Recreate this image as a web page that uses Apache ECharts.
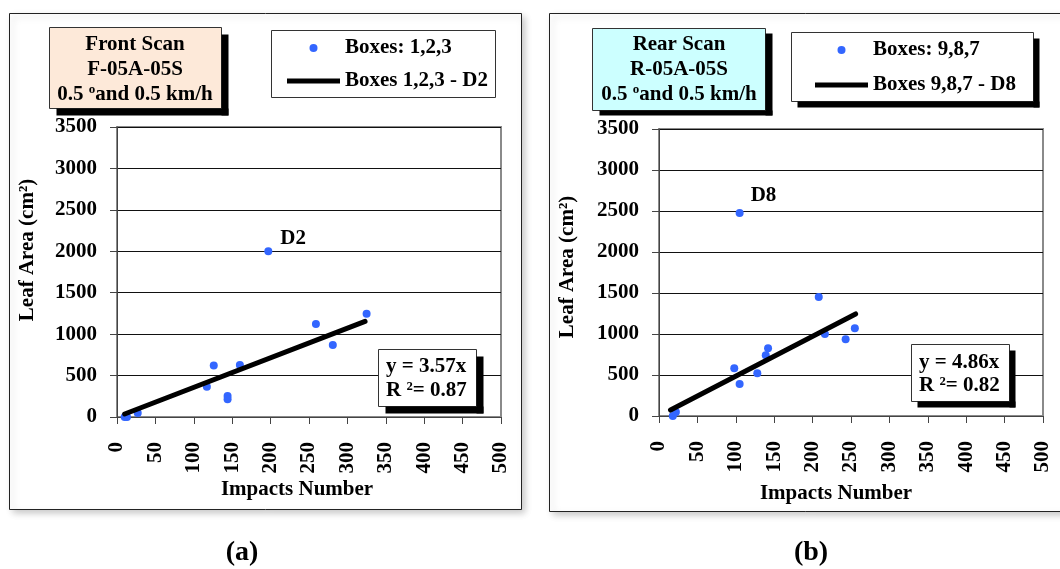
<!DOCTYPE html>
<html>
<head>
<meta charset="utf-8">
<script src="https://cdn.jsdelivr.net/npm/echarts@6/dist/echarts.min.js"></script>
<style>
  html, body { margin: 0; padding: 0; background: #fff; }
  #chart { width: 1060px; height: 569px; }
</style>
</head>
<body>
<div id="chart"></div>
<script>
// Front scan, boxes 1,2,3
const frontImpacts  = [10, 13, 27, 117, 126, 144, 144, 160, 197, 259, 281, 325];
const frontLeafArea = [0, 0, 48, 366, 623, 253, 213, 627, 2000, 1122, 869, 1247];
const frontSlope = 3.57;
const frontR2 = 0.87;
const frontFitRange = [10, 323];
const frontOutlierIndex = 8;   // D2

// Rear scan, boxes 9,8,7
const rearImpacts  = [18, 22, 98, 105, 105, 128, 139, 142, 208, 216, 243, 255];
const rearLeafArea = [0, 49, 581, 390, 2477, 520, 740, 825, 1452, 1000, 935, 1070];
const rearSlope = 4.86;
const rearR2 = 0.82;
const rearFitRange = [15, 256];
const rearOutlierIndex = 4;    // D8

// Axis scales
const xRange = [0, 500];
const xStep = 50;
const yRange = [0, 3500];
const yStep = 500;

const FONT = '"Liberation Serif", "Times New Roman", serif';
const DOT = '#3366ff';
const LINE_ICON = 'path://M0,0L53,0L53,5L0,5Z';

function points(xs, ys, outlier, tag, lbl) {
  return xs.map((x, i) => {
    const item = { value: [x, ys[i]] };
    if (i === outlier) {
      item.label = {
        show: true, formatter: tag, position: lbl,
        align: 'left', verticalAlign: 'middle',
        fontFamily: FONT, fontWeight: 'bold', fontSize: 21, color: '#000', opacity: 1
      };
    }
    return item;
  });
}

function fitLine(slope, range) {
  return range.map(x => [x, slope * x]);
}

function xAxis(gi) {
  return {
    type: 'value', gridIndex: gi, min: xRange[0], max: xRange[1], interval: xStep,
    axisLine: { show: true, onZero: false, lineStyle: { color: '#444', width: 1 } },
    axisTick: { show: true, length: 7, lineStyle: { color: '#444' } },
    axisLabel: { rotate: 90, margin: 25, fontFamily: FONT, fontWeight: 'bold', fontSize: 21, color: '#000',
                 formatter: v => String(v) },
    splitLine: { show: false }
  };
}

function yAxis(gi) {
  return {
    type: 'value', gridIndex: gi, min: yRange[0], max: yRange[1], interval: yStep,
    axisLine: { show: true, lineStyle: { color: '#444', width: 1 } },
    axisTick: { show: true, length: 7, lineStyle: { color: '#444' } },
    axisLabel: { margin: 20, fontFamily: FONT, fontWeight: 'bold', fontSize: 21, color: '#000',
                 formatter: v => String(v) },
    splitLine: { show: true, lineStyle: { color: '#111', width: 1 } }
  };
}

// Legend box background is drawn separately, so the legend itself stays transparent
function legend(names, left, top, padding, gap) {
  return {
    orient: 'vertical', left: left, top: top, padding: padding, z: 200,
    itemWidth: 53, itemHeight: 8, itemGap: gap,
    backgroundColor: 'transparent', borderWidth: 0,
    selectedMode: false,
    textStyle: { fontFamily: FONT, fontWeight: 'bold', fontSize: 21, color: '#000', lineHeight: 22 },
    data: [
      { name: names[0], icon: 'circle', itemStyle: { color: DOT, opacity: 1 } },
      { name: names[1], icon: LINE_ICON, itemStyle: { color: '#000', borderWidth: 0 } }
    ]
  };
}

// Hard drop shadow: one strip down the right side, one along the bottom
function dropShadow(id, x, y, w, h, dx, dy) {
  return [
    { type: 'rect', id: id + '-r', z: 300, shape: { x: x + w, y: y + dy, width: dx, height: h }, style: { fill: '#000' } },
    { type: 'rect', id: id + '-b', z: 300, shape: { x: x + dx, y: y + h, width: w, height: dy }, style: { fill: '#000' } }
  ];
}

function box(id, x, y, w, h, fill, off, children) {
  const list = [{ type: 'rect', id: id, z: 101, shape: { x: x, y: y, width: w, height: h }, style: { fill: fill, stroke: '#333', lineWidth: 1 } }];
  const shadow = off ? dropShadow(id + '-shadow', x, y, w, h, off[0], off[1]) : [];
  return list.concat(children || [], shadow);
}

function txt(x, y, text, opts) {
  return Object.assign({
    type: 'text', z: 102, x: x, y: y,
    style: Object.assign({
      text: text, fontFamily: FONT, fontWeight: 'bold', fontSize: 21, fill: '#000',
      align: 'center', verticalAlign: 'middle'
    }, (opts && opts.style) || {})
  }, (opts && opts.el) || {});
}

function titleText(x, y, l1, l2) {
  return {
    type: 'text', z: 102, x: x, y: y,
    style: {
      text: l1 + '\n' + l2 + '\n0.5 {sup|o}and 0.5 km/h',
      fontFamily: FONT, fontWeight: 'bold', fontSize: 21, fill: '#000', lineHeight: 25,
      align: 'center', verticalAlign: 'middle',
      rich: {
        sup: { fontFamily: FONT, fontWeight: 'bold', fontSize: 13, lineHeight: 25, padding: [0, 0, 10, 0], fill: '#000' }
      }
    }
  };
}

function eqText(x, y, slope, r2, lh) {
  return {
    type: 'text', z: 102, x: x, y: y,
    style: {
      text: 'y = ' + slope.toFixed(2) + 'x\nR \u00B2= ' + r2.toFixed(2),
      fontFamily: FONT, fontWeight: 'bold', fontSize: 21, fill: '#000', lineHeight: lh,
      align: 'left', verticalAlign: 'middle'
    }
  };
}

const frame = (id, x, y, w, h) => ({
  type: 'rect', id: id, z: -10, shape: { x: x, y: y, width: w, height: h },
  style: { fill: '#fff', stroke: '#222', lineWidth: 1,
           shadowColor: 'rgba(0,0,0,0.22)', shadowBlur: 7, shadowOffsetX: 3, shadowOffsetY: 3 }
});

const graphics = [].concat(
  [frame('frame-a', 9.5, 13.5, 512, 496), frame('frame-b', 549.5, 13.5, 520, 498)],
  box('title-a', 49.5, 27.5, 172, 81, '#fde9d9', [7, 7], [titleText(135, 70, 'Front Scan', 'F-05A-05S')]),
  box('title-b', 592.5, 28.5, 173, 82, '#ccffff', [7, 5], [titleText(679, 70, 'Rear Scan', 'R-05A-05S')]),
  box('legend-a', 271.5, 30.5, 224, 67, '#fff', null),
  box('legend-b', 791.5, 32.5, 242, 69, '#fff', [6, 6]),
  box('eq-a', 378.5, 349.5, 98, 57, '#fff', [7, 7], [eqText(386, 379, frontSlope, frontR2, 24)]),
  box('eq-b', 911.5, 344.5, 98, 57, '#fff', [6, 6], [eqText(919, 374.5, rearSlope, rearR2, 23)]),
  [
    txt(28, 250, 'Leaf Area (cm\u00B2)', { el: { rotation: Math.PI / 2 } }),
    txt(568, 267, 'Leaf Area (cm\u00B2)', { el: { rotation: Math.PI / 2 } }),
    txt(297, 490, 'Impacts Number'),
    txt(836, 494, 'Impacts Number'),
    txt(242, 553, '(a)', { style: { fontSize: 28 } }),
    txt(811, 553, '(b)', { style: { fontSize: 28 } })
  ]
);

const chart = echarts.init(document.getElementById('chart'), null, { renderer: 'canvas' });
chart.setOption({
  animation: false,
  backgroundColor: '#fff',
  grid: [
    { left: 117, top: 127, width: 384, height: 290, show: true, borderColor: '#8a8a8a', borderWidth: 2, backgroundColor: 'transparent' },
    { left: 659, top: 129, width: 384, height: 287, show: true, borderColor: '#8a8a8a', borderWidth: 2, backgroundColor: 'transparent' }
  ],
  xAxis: [xAxis(0), xAxis(1)],
  yAxis: [yAxis(0), yAxis(1)],
  legend: [
    legend(['Boxes: 1,2,3', 'Boxes 1,2,3 - D2'], 271, 30, [7, 7, 5, 16], 11),
    legend(['Boxes: 9,8,7', 'Boxes 9,8,7 - D8'], 791, 32, [7, 17, 5, 24], 13)
  ],
  series: [
    {
      name: 'Boxes: 1,2,3', type: 'scatter', xAxisIndex: 0, yAxisIndex: 0, z: 3,
      symbol: 'circle', symbolSize: 8, itemStyle: { color: DOT, opacity: 1 },
      data: points(frontImpacts, frontLeafArea, frontOutlierIndex, 'D2', [16, -9])
    },
    {
      name: 'Boxes 1,2,3 - D2', type: 'line', xAxisIndex: 0, yAxisIndex: 0, z: 4,
      symbol: 'none', lineStyle: { color: '#000', width: 5, cap: 'round' }, itemStyle: { color: '#000' },
      data: fitLine(frontSlope, frontFitRange)
    },
    {
      name: 'Boxes: 9,8,7', type: 'scatter', xAxisIndex: 1, yAxisIndex: 1, z: 3,
      symbol: 'circle', symbolSize: 8, itemStyle: { color: DOT, opacity: 1 },
      data: points(rearImpacts, rearLeafArea, rearOutlierIndex, 'D8', [15, -13])
    },
    {
      name: 'Boxes 9,8,7 - D8', type: 'line', xAxisIndex: 1, yAxisIndex: 1, z: 4,
      symbol: 'none', lineStyle: { color: '#000', width: 5, cap: 'round' }, itemStyle: { color: '#000' },
      data: fitLine(rearSlope, rearFitRange)
    }
  ],
  graphic: graphics
});
</script>
</body>
</html>
